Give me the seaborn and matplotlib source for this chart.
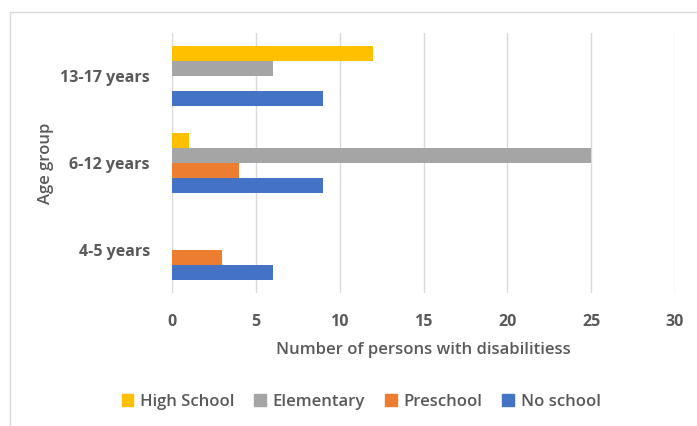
import matplotlib
matplotlib.use("Agg")
import matplotlib.pyplot as plt
import matplotlib.lines as mlines
import seaborn as sns
import pandas as pd

age_groups = ["13-17 years", "6-12 years", "4-5 years"]
school_levels = ["High School", "Elementary", "Preschool", "No school"]
high_school = [12, 1, 0]
elementary = [6, 25, 0]
preschool = [0, 4, 3]
no_school = [9, 9, 6]
x_ticks = [0, 5, 10, 15, 20, 25, 30]
colors = ["#FFC000", "#A5A5A5", "#ED7D31", "#4472C4"]

rows = []
for level, vals in zip(school_levels, [high_school, elementary, preschool, no_school]):
    for grp, v in zip(age_groups, vals):
        rows.append({"Age group": grp, "Level": level, "Count": v})
df = pd.DataFrame(rows)

sns.set_theme(style="white")
plt.rcParams["font.family"] = ["Open Sans", "DejaVu Sans"]

FS = 11.5
TXT = "#595959"

fig = plt.figure(figsize=(6.97, 4.26), dpi=100)
ax = fig.add_axes([172 / 697, 1 - 293 / 426, (675 - 172) / 697, (293 - 33) / 426])

sns.barplot(data=df, y="Age group", x="Count", hue="Level",
            order=age_groups, hue_order=school_levels, palette=colors,
            orient="h", width=0.69, gap=0, saturation=1, linewidth=0,
            ax=ax, legend=True)

ax.set_xlim(0, 30)
ax.set_xticks(x_ticks)
ax.set_ylim(2.5, -0.5)
ax.grid(axis="x", color="#D9D9D9", linewidth=1)
ax.set_axisbelow(True)
for s in ax.spines.values():
    s.set_visible(False)
ax.tick_params(axis="both", length=0, colors=TXT, labelsize=FS)
for lbl in ax.get_xticklabels() + ax.get_yticklabels():
    lbl.set_fontweight("bold")
ax.tick_params(axis="x", pad=15)
ax.tick_params(axis="y", pad=16)

ax.set_xlabel("Number of persons with disabilitiess", fontsize=FS + 0.5,
              color=TXT, fontweight="semibold", labelpad=9)
ax.set_ylabel("Age group", fontsize=FS + 0.5, color=TXT,
              fontweight="semibold", labelpad=4)

ax.get_legend().remove()
handles = [plt.Rectangle((0, 0), 1, 1, color=c) for c in colors]
fig.legend(handles, school_levels, loc="center", bbox_to_anchor=(0.518, 1 - 402 / 426),
           ncol=4, frameon=False, handlelength=0.7, handleheight=0.7,
           columnspacing=1.2, handletextpad=0.4,
           prop={"weight": "semibold", "size": FS + 0.5})
for t in fig.legends[0].get_texts():
    t.set_color(TXT)

# light outer frame along top and left
fig.add_artist(mlines.Line2D([10 / 697, 1], [1 - 12 / 426, 1 - 12 / 426],
                             transform=fig.transFigure, color="#D9D9D9", lw=1))
fig.add_artist(mlines.Line2D([10 / 697, 10 / 697], [0, 1 - 12 / 426],
                             transform=fig.transFigure, color="#D9D9D9", lw=1))

fig.savefig("out.png", dpi=100)
